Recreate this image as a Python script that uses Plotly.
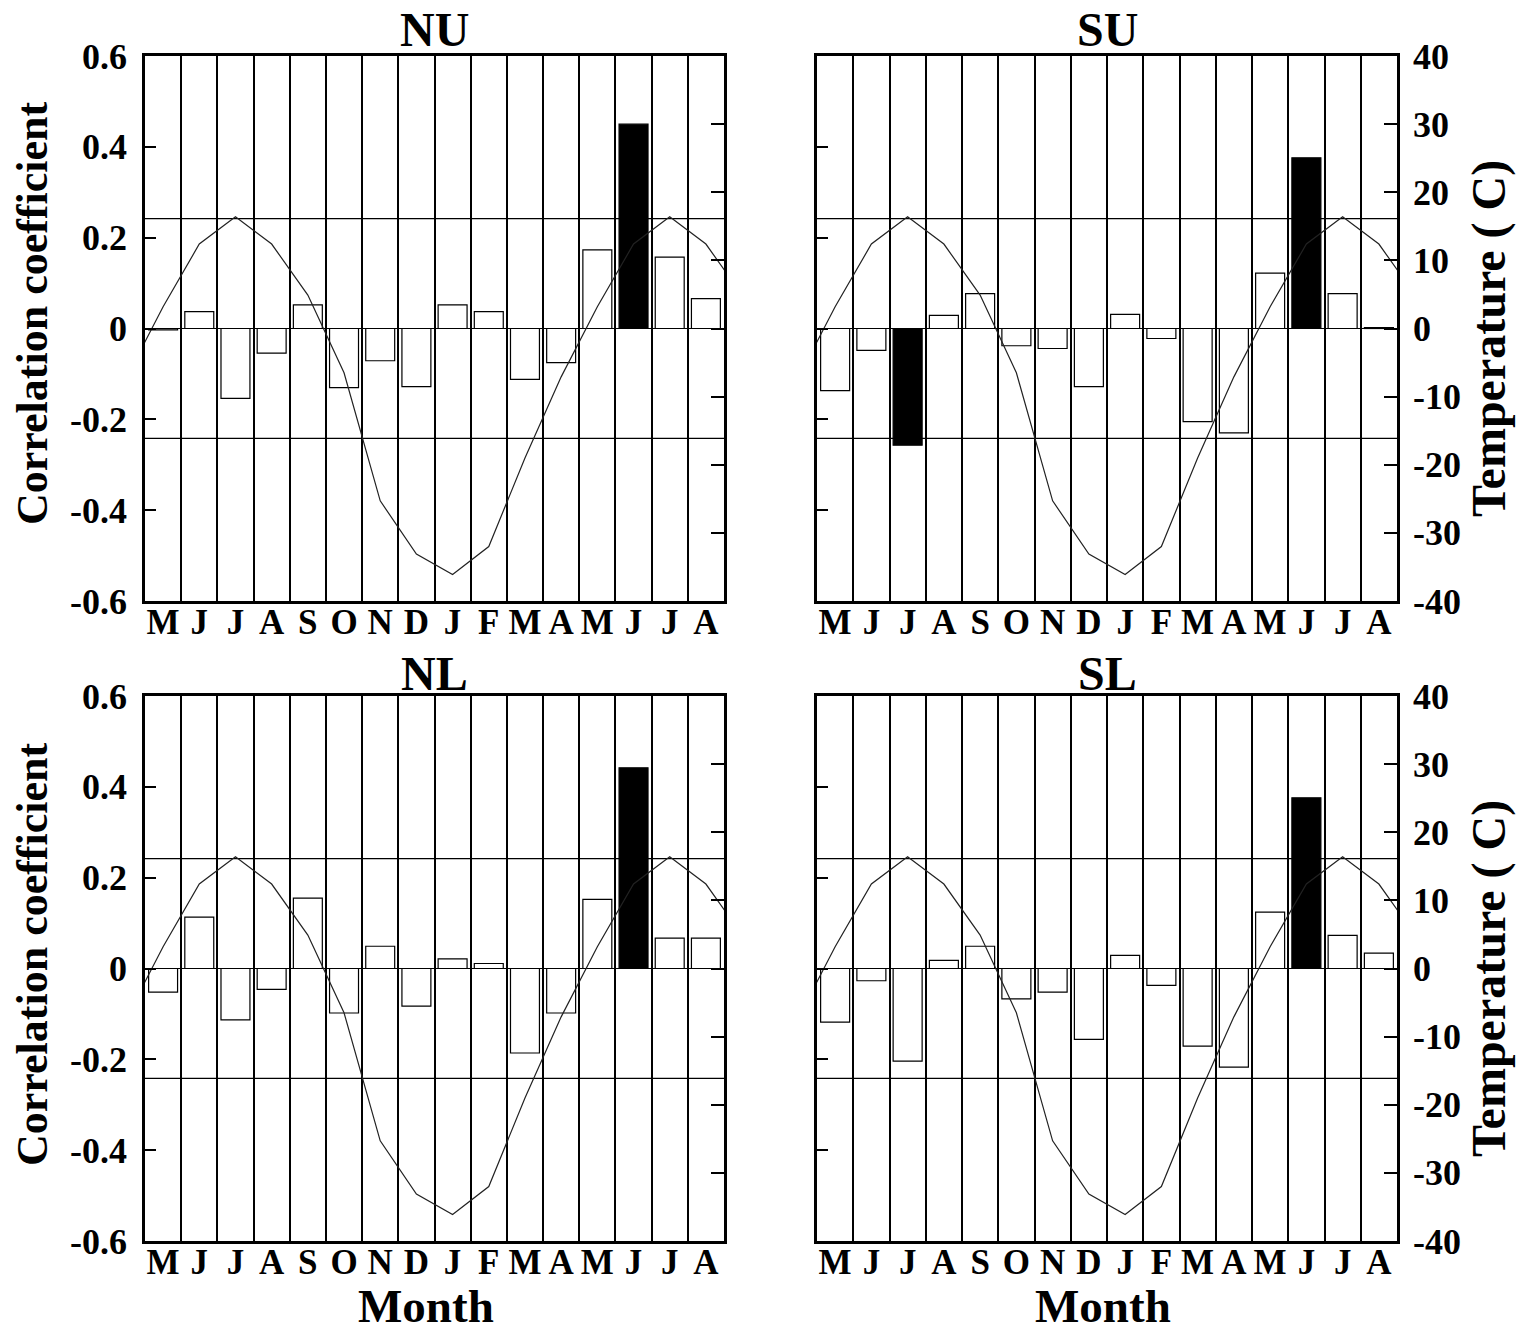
import plotly.graph_objects as go

# ---------------- data ----------------
months = ["M", "J", "J", "A", "S", "O", "N", "D", "J", "F", "M", "A", "M", "J", "J", "A"]
panel_names = ["NU", "SU", "NL", "SL"]

corr_NU = [-0.003, 0.037, -0.154, -0.054, 0.052, -0.130, -0.071, -0.128,
           0.052, 0.037, -0.112, -0.075, 0.173, 0.450, 0.157, 0.066]
corr_SU = [-0.137, -0.048, -0.257, 0.029, 0.077, -0.038, -0.044, -0.128,
           0.031, -0.022, -0.205, -0.230, 0.122, 0.376, 0.077, 0.002]
corr_NL = [-0.052, 0.113, -0.113, -0.046, 0.155, -0.098, 0.049, -0.083,
           0.021, 0.011, -0.186, -0.098, 0.152, 0.442, 0.067, 0.067]
corr_SL = [-0.118, -0.027, -0.204, 0.018, 0.049, -0.067, -0.052, -0.156,
           0.029, -0.037, -0.171, -0.217, 0.124, 0.376, 0.073, 0.034]

# monthly mean temperature, from the April before the window to the September after it
temp_months = ["A", "M", "J", "J", "A", "S", "O", "N", "D", "J", "F", "M", "A", "M", "J", "J", "A", "S"]
temperature = [-7.1, 3.2, 12.4, 16.4, 12.4, 4.9, -6.5, -25.3, -33.1, -36.1,
               -32.0, -19.0, -7.1, 3.2, 12.4, 16.4, 12.4, 4.9]

significance = 0.242  # 95% significance level of the correlation

corr_ticks = [0.6, 0.4, 0.2, 0, -0.2, -0.4, -0.6]
corr_ticktext = ["0.6", "0.4", "0.2", "0", "-0.2", "-0.4", "-0.6"]
temp_ticks = [40, 30, 20, 10, 0, -10, -20, -30, -40]
temp_ticktext = ["40", "30", "20", "10", "0", "-10", "-20", "-30", "-40"]

# ---------------- layout helpers ----------------
W, H = 1521, 1331
FONT = "Liberation Serif"

def px(x):
    return x / W

def py(y):
    return 1 - y / H

xdoms = [[px(145), px(724)], [px(817), px(1397)]]
ydoms = [[py(601), py(56)], [py(1241), py(696)]]

n = len(months)
bar_x = [i + 0.5 for i in range(n)]
temp_x = [i - 0.5 for i in range(len(temp_months))]

fig = go.Figure()
layout = dict(
    width=W, height=H, autosize=False, margin=dict(l=0, r=0, t=0, b=0, pad=0, autoexpand=False),
    paper_bgcolor="white", plot_bgcolor="white", showlegend=False,
    font=dict(family=FONT, color="black"),
)
annotations = []
shapes = []

all_corr = [corr_NU, corr_SU, corr_NL, corr_SL]

for k, (name, vals) in enumerate(zip(panel_names, all_corr)):
    row, col = divmod(k, 2)
    i = k + 1
    xa = f"xaxis{i}" if i > 1 else "xaxis"
    ya = f"yaxis{i}" if i > 1 else "yaxis"
    ta = f"yaxis{i + 4}"
    xref = f"x{i}" if i > 1 else "x"
    yref = f"y{i}" if i > 1 else "y"
    tref = f"y{i + 4}"

    colors = ["black" if abs(v) >= significance else "white" for v in vals]
    fig.add_trace(go.Bar(
        x=bar_x, y=vals, width=0.8, xaxis=xref, yaxis=yref,
        marker=dict(color=colors, line=dict(color="black", width=1.2)),
    ))
    fig.add_trace(go.Scatter(
        x=temp_x, y=temperature, mode="lines", xaxis=xref, yaxis=tref,
        line=dict(color="#222222", width=1.2),
    ))

    layout[xa] = dict(
        domain=xdoms[col], anchor=yref, range=[0, n], automargin=False,
        tickmode="array", tickvals=bar_x, ticktext=months, ticks="",
        ticklabelstandoff=-12,
        showgrid=False, zeroline=False,
        showline=True, linecolor="black", linewidth=2.5, mirror=True,
        tickfont=dict(family=FONT, size=35, weight="bold"),
        minor=dict(tickmode="array", tickvals=list(range(n + 1)), showgrid=True,
                   gridcolor="black", gridwidth=2.2, ticks=""),
    )
    layout[ya] = dict(
        domain=ydoms[row], anchor=xref, range=[-0.6, 0.6], automargin=False,
        tickmode="array", tickvals=corr_ticks, ticktext=corr_ticktext,
        ticks="inside", ticklen=11, tickwidth=2.2, tickcolor="black",
        showticklabels=(col == 0), ticklabelstandoff=8,
        showgrid=False, zeroline=True, zerolinecolor="black", zerolinewidth=1.2,
        showline=True, linecolor="black", linewidth=2.5,
        tickfont=dict(family=FONT, size=36, weight="bold"),
    )
    layout[ta] = dict(
        overlaying=yref, anchor=xref, side="right", range=[-40, 40], automargin=False,
        tickmode="array", tickvals=temp_ticks, ticktext=temp_ticktext,
        ticks="inside", ticklen=13, tickwidth=2.2, tickcolor="black",
        showticklabels=(col == 1), ticklabelstandoff=6,
        showgrid=False, zeroline=False,
        showline=True, linecolor="black", linewidth=2.5,
        tickfont=dict(family=FONT, size=36, weight="bold"),
    )

    # significance lines
    for s in (significance, -significance):
        shapes.append(dict(type="line", xref=f"{xref} domain", yref=yref,
                           x0=0, x1=1, y0=s, y1=s, layer="below",
                           line=dict(color="black", width=1.2)))

    # panel title
    cx = (xdoms[col][0] + xdoms[col][1]) / 2
    ty = [30, 673][row]
    annotations.append(dict(text=f"<b>{name}</b>", x=cx, y=py(ty), xref="paper", yref="paper",
                            xanchor="center", yanchor="middle", showarrow=False,
                            font=dict(family=FONT, size=48, color="black")))

# axis titles
for row in range(2):
    cy = [314, 955][row]
    annotations.append(dict(text="<b>Correlation coefficient</b>", x=px(33), y=py(cy),
                            xref="paper", yref="paper", xanchor="center", yanchor="middle",
                            textangle=-90, showarrow=False,
                            font=dict(family=FONT, size=44, color="black")))
    cy2 = [339, 979][row]
    annotations.append(dict(text="<b>Temperature ( C)</b>", x=px(1489), y=py(cy2),
                            xref="paper", yref="paper", xanchor="center", yanchor="middle",
                            textangle=-90, showarrow=False,
                            font=dict(family=FONT, size=48, color="black")))
for cx in (426, 1103):
    annotations.append(dict(text="<b>Month</b>", x=px(cx), y=py(1306),
                            xref="paper", yref="paper", xanchor="center", yanchor="middle",
                            showarrow=False, font=dict(family=FONT, size=47, color="black")))

layout["annotations"] = annotations
layout["shapes"] = shapes
fig.update_layout(**layout)
fig.write_html("out.html",
               config={"displayModeBar": False, "responsive": False},
               post_script="document.body.style.margin='0';document.body.style.overflow='hidden';")
